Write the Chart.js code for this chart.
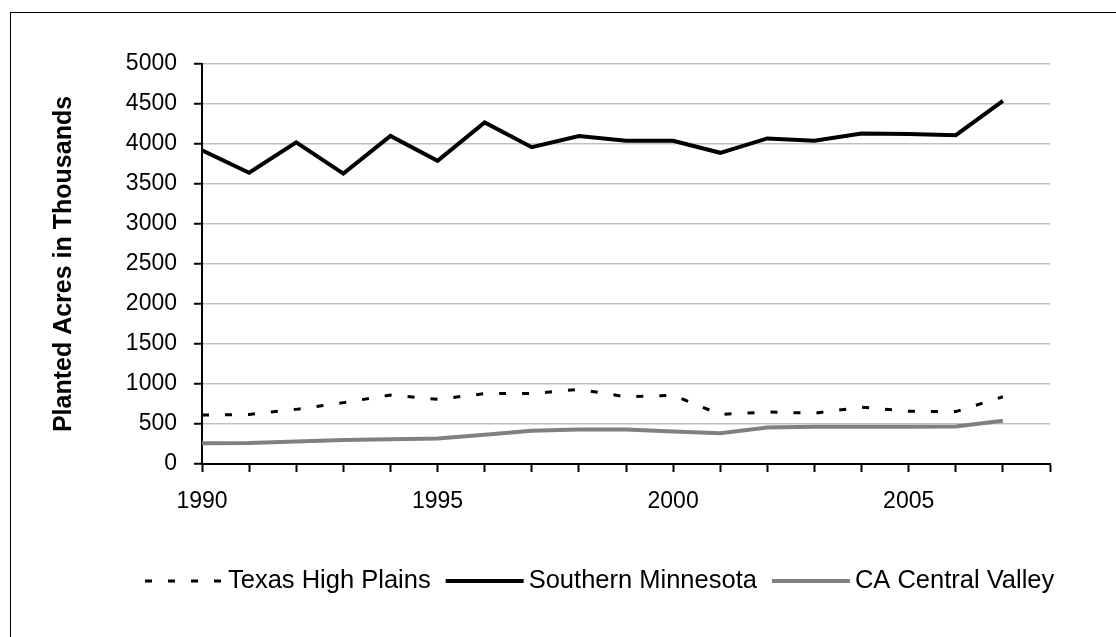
<!DOCTYPE html>
<html>
<head>
<meta charset="utf-8">
<title>Planted Acres</title>
<script src="https://cdn.jsdelivr.net/npm/chart.js@4.4.1/dist/chart.umd.min.js"></script>
<style>
  html, body { margin: 0; padding: 0; background: #fff; }
  #wrap { width: 1116px; height: 637px; }
</style>
</head>
<body>
<div id="wrap"><canvas id="grafica" width="1116" height="637"></canvas></div>
<script>
// ========== DATA ===================
const years = [1990, 1991, 1992, 1993, 1994, 1995, 1996, 1997, 1998,
               1999, 2000, 2001, 2002, 2003, 2004, 2005, 2006, 2007];
const texas = [612, 620, 683, 767, 862, 808, 880, 880, 933,
               840, 860, 620, 650, 635, 710, 660, 655, 840];
const minnesota = [3920, 3640, 4020, 3630, 4100, 3790, 4270, 3960, 4100,
                   4040, 4040, 3890, 4070, 4040, 4130, 4125, 4110, 4540];
const caValley = [258, 262, 280, 300, 310, 320, 365, 415, 430,
                  430, 405, 385, 455, 465, 465, 465, 470, 540];
const seriesNames = ["Texas High Plains", "Southern Minnesota", "CA Central Valley"];
const yTicks = [0, 500, 1000, 1500, 2000, 2500, 3000, 3500, 4000, 4500, 5000];
const xLabelYears = [1990, 1995, 2000, 2005];

// -------------- UTILS ----------------
function pts(vals){ return years.map((y, i) => ({ x: y, y: vals[i] })); }
const FONT = "'Liberation Sans', Arial, sans-serif";

// ========== PLUGINS ==========
// outer frame of the chart (only left/top are in the picture)
const marco = {
  id: "marco",
  beforeDraw(chart){
    const c = chart.ctx;
    c.save();
    c.strokeStyle = "#000";
    c.lineWidth = 1;
    c.strokeRect(10.5, 12.5, 1300, 800);
    c.restore();
  }
};

// legend drawn like the Excel one: sample line, then the name
const leyenda = {
  id: "leyenda",
  afterDraw(chart){
    const c = chart.ctx;
    const y = 581;
    let x = 145;
    c.save();
    c.font = "25.5px " + FONT;
    c.textBaseline = "middle";
    chart.data.datasets.forEach(ds => {
      c.beginPath();
      c.setLineDash(ds.borderDash || []);
      c.strokeStyle = ds.borderColor;
      c.lineWidth = ds.borderWidth;
      c.moveTo(x, y);
      c.lineTo(x + 78, y);
      c.stroke();
      c.setLineDash([]);
      c.fillStyle = "#000";
      c.fillText(ds.label, x + 83, y);
      x += 83 + c.measureText(ds.label).width + 15;
    });
    c.restore();
  }
};

// ========== GRAFICA ==========
new Chart(document.getElementById("grafica"), {
  type: "line",
  data: {
    datasets: [
      { label: seriesNames[0], data: pts(texas), borderColor: "#000",
        borderWidth: 3, borderDash: [7, 16], pointRadius: 0, fill: false, tension: 0 },
      { label: seriesNames[1], data: pts(minnesota), borderColor: "#000",
        borderWidth: 4, pointRadius: 0, fill: false, tension: 0 },
      { label: seriesNames[2], data: pts(caValley), borderColor: "#808080",
        borderWidth: 4, pointRadius: 0, fill: false, tension: 0 }
    ]
  },
  options: {
    responsive: false,
    animation: false,
    layout: { padding: { left: 0, right: 66, top: 64, bottom: 113 } },
    plugins: { legend: { display: false }, tooltip: { enabled: false } },
    scales: {
      x: {
        type: "linear",
        min: 1990,
        max: 2008,
        afterFit(s){ s.height = 60; },
        afterBuildTicks(s){ s.ticks = []; for (let v = 1990; v <= 2008; v++) s.ticks.push({ value: v }); },
        ticks: {
          autoSkip: false, maxRotation: 0, padding: 16, color: "#000",
          font: { family: FONT, size: 23 },
          callback: v => xLabelYears.includes(v) ? String(v) : ""
        },
        grid: { drawOnChartArea: false, drawTicks: true, tickLength: 8, tickColor: "#000", tickWidth: 2 },
        border: { color: "#000", width: 2 }
      },
      y: {
        min: 0,
        max: 5000,
        afterFit(s){ s.width = 202; },
        afterBuildTicks(s){ s.ticks = yTicks.map(v => ({ value: v })); },
        ticks: { padding: 17, color: "#000", font: { family: FONT, size: 23 },
                 callback: v => String(v) },
        grid: { color: "#c0c0c0", lineWidth: 1.5, tickColor: "#000", tickWidth: 2, tickLength: 8 },
        border: { color: "#000", width: 2 },
        title: {
          display: true, text: "Planted Acres in Thousands", color: "#000",
          font: { family: FONT, size: 25, weight: "bold" },
          padding: { top: 49, bottom: 0 }
        }
      }
    }
  },
  plugins: [marco, leyenda]
});
</script>
</body>
</html>
